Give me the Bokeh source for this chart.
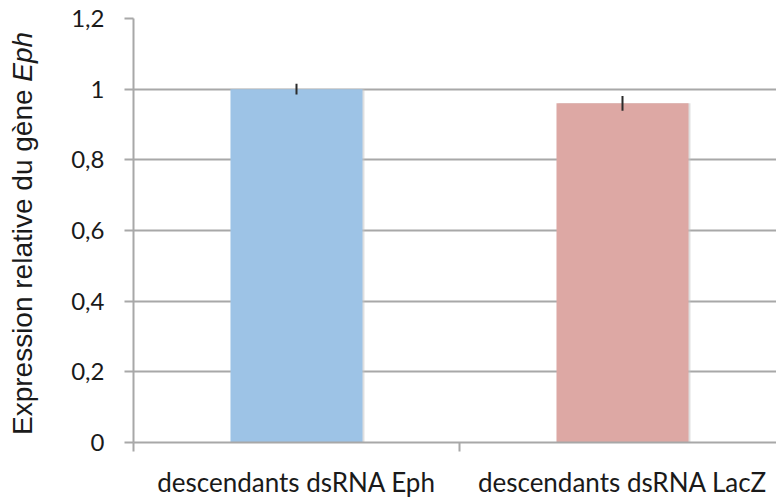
from bokeh.plotting import figure
from bokeh.models import Range1d, FixedTicker, ColumnDataSource, Div
from bokeh.layouts import row
from bokeh.embed import file_html
from bokeh.resources import INLINE

categories = ["descendants dsRNA Eph", "descendants dsRNA LacZ"]
values = [1.0, 0.96]
errors = [0.015, 0.021]
colors = ["#9dc3e6", "#dda8a4"]
y_ticks = [0.0, 0.2, 0.4, 0.6, 0.8, 1.0, 1.2]
y_tick_labels = ["0", "0,2", "0,4", "0,6", "0,8", "1", "1,2"]
y_label_main = "Expression relative du gène "
y_label_italic = "Eph"

DIV_W = 50
CAT_W = 326.0
LEFT = 133 - DIV_W

xs = [i + 0.5 for i in range(len(categories))]
src = ColumnDataSource(dict(
    x=xs, top=values, color=colors,
    lo=[v - e for v, e in zip(values, errors)],
    hi=[v + e for v, e in zip(values, errors)],
))

p = figure(width=776 - DIV_W, height=500, output_backend="svg", toolbar_location=None,
           x_range=Range1d(0, (776 - 133) / CAT_W), y_range=Range1d(0, 1.2),
           min_border_left=LEFT, min_border_right=0, min_border_top=18,
           min_border_bottom=54)
p.outline_line_color = None
p.background_fill_color = "white"
p.border_fill_color = "white"

# soft shadow + bars
p.vbar(x=[x + 0.006 for x in xs], top=values, width=0.405, bottom=0,
       fill_color="#c4c4c4", line_color=None, fill_alpha=0.55)
p.vbar(x="x", top="top", width=0.405, bottom=0, fill_color="color",
       line_color=None, source=src)
p.segment(x0="x", x1="x", y0="lo", y1="hi", line_color="#2b2b2b",
          line_width=2, source=src)

# x axis: labels at category centres, ticks at category boundaries
p.xaxis.ticker = FixedTicker(ticks=xs, minor_ticks=list(range(len(categories) + 1)))
p.xaxis.major_label_overrides = {x: c for x, c in zip(xs, categories)}
p.xaxis.major_tick_line_color = None
p.xaxis.major_tick_out = 0
p.xaxis.major_tick_in = 0
p.xaxis.minor_tick_out = 9
p.xaxis.minor_tick_in = 0
p.xaxis.minor_tick_line_color = "#a8a8a8"
p.xaxis.minor_tick_line_width = 2
p.xaxis.axis_line_color = "#a8a8a8"
p.xaxis.axis_line_width = 2
p.xaxis.major_label_text_font = "Lato"
p.xaxis.major_label_text_font_size = "26px"
p.xaxis.major_label_text_color = "#1a1a1a"
p.xaxis.major_label_standoff = 14
p.xgrid.grid_line_color = None

# y axis
p.yaxis.ticker = FixedTicker(ticks=y_ticks)
p.yaxis.major_label_overrides = {t: l for t, l in zip(y_ticks, y_tick_labels)}
p.yaxis.major_tick_out = 9
p.yaxis.major_tick_in = 0
p.yaxis.minor_tick_line_color = None
p.yaxis.major_tick_line_color = "#a8a8a8"
p.yaxis.major_tick_line_width = 2
p.yaxis.axis_line_color = "#a8a8a8"
p.yaxis.axis_line_width = 2
p.yaxis.major_label_text_font = "Lato"
p.yaxis.major_label_text_font_size = "24px"
p.yaxis.major_label_text_color = "#1a1a1a"
p.yaxis.major_label_standoff = 20
p.ygrid.grid_line_color = "#a8a8a8"
p.ygrid.grid_line_width = 2

# y axis title with an italic gene name (HTML, rotated)
label_html = (
    '<div style="position:relative;width:%dpx;height:500px;">'
    '<div style="position:absolute;left:9px;top:435px;transform:rotate(-90deg);'
    'transform-origin:0 0;white-space:pre;font-family:\'Liberation Sans\',Arial,sans-serif;'
    'font-size:28px;line-height:1;color:#1a1a1a;">%s<i>%s</i></div></div>'
) % (DIV_W, y_label_main, y_label_italic)
div = Div(text=label_html, width=DIV_W, height=500, margin=(0, 0, 0, 0))

layout = row(div, p, margin=(0, 0, 0, 0))
open("out.html", "w").write(file_html(layout, INLINE))
